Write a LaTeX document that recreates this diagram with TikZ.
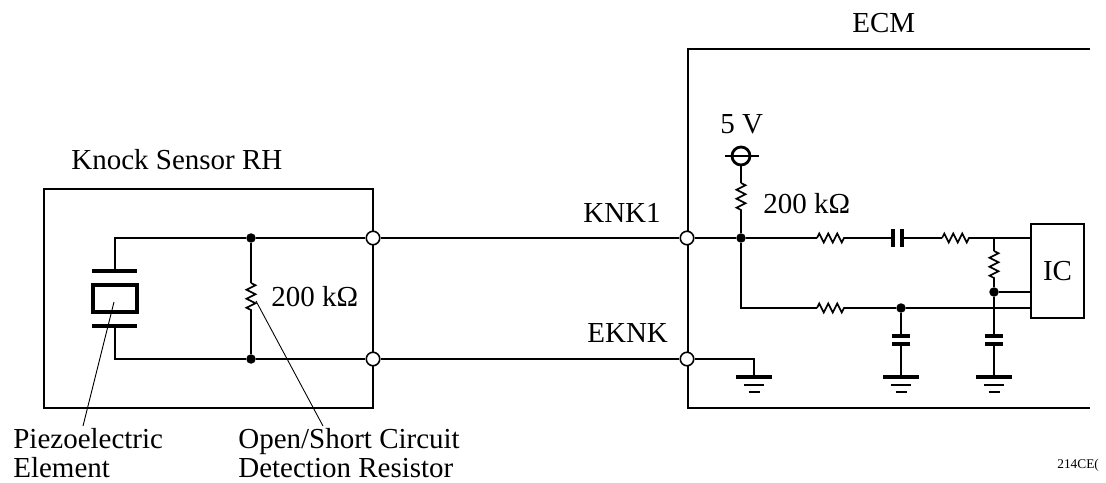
\documentclass[tikz,border=0pt]{standalone}
\usepackage{fontspec}
\setmainfont{Liberation Serif}
\usetikzlibrary{decorations.pathmorphing}

\begin{document}
\begin{tikzpicture}[x=0.02cm,y=-0.02cm]
\tikzstyle{wire}=[line width=1.1pt]
\tikzstyle{plate}=[line width=1.9pt]
\tikzstyle{leader}=[line width=0.5pt]
\tikzstyle{res}=[line width=0.9pt,decorate,decoration={zigzag,segment length=0.18cm,amplitude=0.09cm}]
\tikzstyle{box}=[draw,line width=1.1pt,rectangle,inner sep=0pt]
\tikzstyle{dot}=[circle,fill=black,minimum size=0.19cm,inner sep=0pt]
\tikzstyle{term}=[circle,draw,fill=white,line width=0.9pt,minimum size=0.27cm,inner sep=0pt]
\tikzstyle{label}=[anchor=base west,inner sep=0pt,font=\fontsize{16.5}{18}\selectfont]
\useasboundingbox (0,0) rectangle (1106,483);

% knock sensor
\node[box,minimum width=6.58cm,minimum height=4.38cm] (Sensor) at (208.5,298.5) {};
\node[box,line width=1.9pt,minimum width=0.88cm,minimum height=0.54cm] (Piezo) at (115,298.5) {};
\coordinate (P_1) at (115,238);
\coordinate (P_2) at (115,271);
\coordinate (P_3) at (115,326);
\coordinate (P_4) at (115,359);
\draw[plate] (92,271) -- (137,271);
\draw[plate] (92,326) -- (137,326);
\node[dot] (S_1) at (251,238) {};
\node[dot] (S_2) at (251,359) {};
\coordinate (R_1a) at (251,283);
\coordinate (R_1b) at (251,311);
\draw[wire] (P_2) -- (P_1) -- (S_1);
\draw[wire] (P_3) -- (P_4) -- (S_2);
\draw[wire] (S_1) -- (R_1a);
\draw[res] (R_1a) -- (R_1b);
\draw[wire] (R_1b) -- (S_2);

% ecm frame
\coordinate (E_1) at (1090,49);
\coordinate (E_2) at (688,49);
\coordinate (E_3) at (688,408);
\coordinate (E_4) at (1090,408);
\draw[wire] (E_1) -- (E_2) -- (E_3) -- (E_4);

% terminals and harness
\node[term] (T_1) at (373,238) {};
\node[term] (T_2) at (373,359) {};
\node[term] (T_3) at (687,238) {};
\node[term] (T_4) at (687,359) {};
\draw[wire] (S_1) -- (T_1) -- (T_3);
\draw[wire] (S_2) -- (T_2) -- (T_4);

% 5 V pull up
\node[circle,draw,line width=1.6pt,minimum size=0.36cm,inner sep=0pt] (V_1) at (741,156) {};
\coordinate (V_a) at (725,156);
\coordinate (V_b) at (759,156);
\draw[line width=0.9pt] (V_a) -- (V_b);
\node[dot] (J_1) at (741,238) {};
\coordinate (R_2a) at (741,183);
\coordinate (R_2b) at (741,211);
\draw[wire] (V_1) -- (R_2a);
\draw[res] (R_2a) -- (R_2b);
\draw[wire] (R_2b) -- (J_1);
\draw[wire] (T_3) -- (J_1);

% ic
\node[box,minimum width=1.06cm,minimum height=1.88cm,font=\fontsize{16.5}{18}\selectfont] (IC) at (1057.5,271) {IC};
\coordinate (I_1) at (1031,238);
\coordinate (I_2) at (1031,292);
\coordinate (I_3) at (1031,308);

% upper branch
\coordinate (R_3a) at (817,238);
\coordinate (R_3b) at (844,238);
\coordinate (C_1a) at (893,238);
\coordinate (C_1b) at (902,238);
\coordinate (R_4a) at (942,238);
\coordinate (R_4b) at (969,238);
\coordinate (B_1) at (994,238);
\draw[wire] (J_1) -- (R_3a);
\draw[res] (R_3a) -- (R_3b);
\draw[wire] (R_3b) -- (C_1a);
\draw[plate] (893,229) -- (893,247);
\draw[plate] (902,229) -- (902,247);
\draw[wire] (C_1b) -- (R_4a);
\draw[res] (R_4a) -- (R_4b);
\draw[wire] (R_4b) -- (I_1);

% lower branch
\coordinate (L_1) at (741,308);
\coordinate (R_5a) at (817,308);
\coordinate (R_5b) at (844,308);
\node[dot] (J_2) at (901,308) {};
\draw[wire] (J_1) -- (L_1) -- (R_5a);
\draw[res] (R_5a) -- (R_5b);
\draw[wire] (R_5b) -- (J_2) -- (I_3);

% divider
\coordinate (R_6a) at (994,251);
\coordinate (R_6b) at (994,278);
\node[dot] (J_3) at (994,292) {};
\draw[wire] (B_1) -- (R_6a);
\draw[res] (R_6a) -- (R_6b);
\draw[wire] (R_6b) -- (J_3) -- (I_2);

% grounds and filter caps
\foreach \x in {754,901,994} {
  \coordinate (GND_\x) at (\x,377);
  \draw[plate] (\x-18,377) -- (\x+18,377);
  \draw[wire] (\x-10,385) -- (\x+10,385);
  \draw[wire] (\x-5.5,392) -- (\x+5.5,392);
}
\foreach \x in {901,994} {
  \coordinate (C_\x a) at (\x,336);
  \coordinate (C_\x b) at (\x,344);
  \draw[plate] (\x-9,336) -- (\x+9,336);
  \draw[plate] (\x-9,344) -- (\x+9,344);
  \draw[wire] (C_\x b) -- (GND_\x);
}
\draw[wire] (J_2) -- (C_901a);
\draw[wire] (J_3) -- (C_994a);
\coordinate (G_1) at (754,359);
\draw[wire] (T_4) -- (G_1) -- (GND_754);

% texts
\node[label] (L_Sensor) at (71,170) {Knock Sensor RH};
\node[label] (L_Ecm) at (852,33) {ECM};
\node[label] (L_Knk) at (583,222) {KNK1};
\node[label] (L_Eknk) at (587,342) {EKNK};
\node[label] (L_Five) at (720,133) {5 V};
\node[label] (L_R1) at (271,306) {200 kΩ};
\node[label] (L_R2) at (763,214) {200 kΩ};
\node[label] (L_Pz1) at (13,448) {Piezoelectric};
\node[label] (L_Pz2) at (13,477) {Element};
\node[label] (L_Op1) at (238,448) {Open/Short Circuit};
\node[label] (L_Op2) at (238,477) {Detection Resistor};
\node[anchor=base west,inner sep=0pt,font=\fontsize{7.6}{9}\selectfont] (L_Code) at (1057,468) {214CE(};

% leaders
\coordinate (A_1) at (114,302);
\coordinate (A_2) at (83,426);
\coordinate (A_3) at (256,301);
\coordinate (A_4) at (323,426);
\draw[leader] (A_1) -- (A_2);
\draw[leader] (A_3) -- (A_4);
\end{tikzpicture}
\end{document}
